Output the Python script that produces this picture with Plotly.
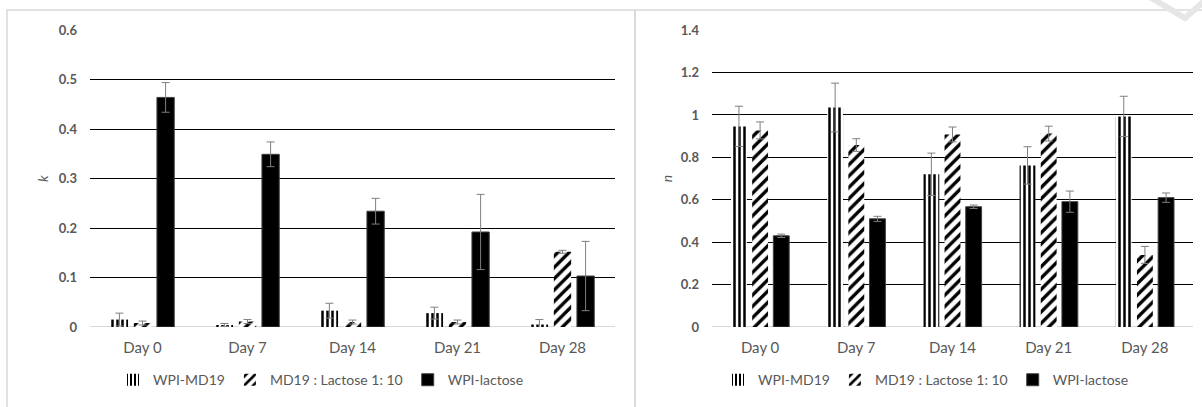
import plotly.graph_objects as go

days = ["Day 0", "Day 7", "Day 14", "Day 21", "Day 28"]
series_names = ["WPI-MD19", "MD19 : Lactose 1: 10", "WPI-lactose"]

# k values (left panel)
k_wpi_md19 = [0.015, 0.004, 0.033, 0.028, 0.005]
k_wpi_md19_err = [0.013, 0.003, 0.015, 0.012, 0.010]
k_md19_lac = [0.008, 0.011, 0.010, 0.010, 0.152]
k_md19_lac_err = [0.004, 0.004, 0.004, 0.004, 0.003]
k_wpi_lac = [0.464, 0.349, 0.234, 0.192, 0.103]
k_wpi_lac_err = [0.030, 0.025, 0.026, 0.076, 0.070]

# n values (right panel)
n_wpi_md19 = [0.946, 1.035, 0.720, 0.762, 0.993]
n_wpi_md19_err = [0.095, 0.115, 0.100, 0.088, 0.095]
n_md19_lac = [0.927, 0.858, 0.908, 0.912, 0.340]
n_md19_lac_err = [0.040, 0.030, 0.035, 0.035, 0.040]
n_wpi_lac = [0.430, 0.510, 0.567, 0.591, 0.610]
n_wpi_lac_err = [0.008, 0.012, 0.008, 0.050, 0.022]

k_ticks = [0, 0.1, 0.2, 0.3, 0.4, 0.5, 0.6]
n_ticks = [0, 0.2, 0.4, 0.6, 0.8, 1, 1.2, 1.4]
n_grid = [0.2, 0.4, 0.6, 0.8, 1, 1.2]

TXT = "#595959"
FONT = "Lato"

styles = [
    dict(color="white", line=dict(width=0),
         pattern=dict(shape="|", fgcolor="black", bgcolor="white", size=5, solidity=0.5,
                      fillmode="replace", fgopacity=1)),
    dict(color="white", line=dict(width=0),
         pattern=dict(shape="/", fgcolor="black", bgcolor="white", size=8, solidity=0.42,
                      fillmode="replace", fgopacity=1)),
    dict(color="black", line=dict(width=1, color="#404040")),
]

err_style = dict(type="data", color="#7f7f7f", thickness=1, width=4, visible=True)

fig = go.Figure()
k_data = [(k_wpi_md19, k_wpi_md19_err), (k_md19_lac, k_md19_lac_err), (k_wpi_lac, k_wpi_lac_err)]
n_data = [(n_wpi_md19, n_wpi_md19_err), (n_md19_lac, n_md19_lac_err), (n_wpi_lac, n_wpi_lac_err)]

for i, (vals, errs) in enumerate(k_data):
    fig.add_trace(go.Bar(x=days, y=vals, name=series_names[i], marker=styles[i],
                         error_y=dict(array=errs, **err_style),
                         xaxis="x", yaxis="y", legend="legend"))
for i, (vals, errs) in enumerate(n_data):
    fig.add_trace(go.Bar(x=days, y=vals, name=series_names[i], marker=styles[i],
                         error_y=dict(array=errs, **err_style),
                         xaxis="x2", yaxis="y2", legend="legend2"))
# invisible trace to host the grid axis for the right panel
fig.add_trace(go.Scatter(x=days, y=[None]*len(days), xaxis="x2", yaxis="y3",
                         showlegend=False, hoverinfo="skip"))

ydom = [0.1966, 0.926]
tickfont = dict(family=FONT, size=13, color=TXT, weight="bold")
xtickfont = dict(family=FONT, size=15, color=TXT)
legfont = dict(family=FONT, size=14, color=TXT)

fig.update_layout(
    width=1202, height=407,
    margin=dict(l=0, r=0, t=0, b=0, autoexpand=False),
    paper_bgcolor="white", plot_bgcolor="white",
    barmode="group", bargap=0.34, bargroupgap=0.25,
    xaxis=dict(domain=[90/1202, 615/1202], anchor="y", showgrid=False, showline=False,
               ticks="", tickfont=xtickfont, ticklabelstandoff=10, zeroline=False, automargin=False),
    yaxis=dict(domain=ydom, anchor="x", range=[0, 0.6], tickvals=k_ticks,
               ticktext=[f"{v:g}" for v in k_ticks],
               showgrid=True, gridcolor="black", gridwidth=1,
               zeroline=True, zerolinecolor="#d9d9d9", zerolinewidth=1,
               ticks="", tickfont=tickfont, ticklabelstandoff=12, automargin=False,
               title=dict(text="<i>k</i>", font=dict(family=FONT, size=14, color=TXT), standoff=6)),
    xaxis2=dict(domain=[712/1202, 1193/1202], anchor="y2", showgrid=False, showline=False,
                ticks="", tickfont=xtickfont, ticklabelstandoff=10, zeroline=False, automargin=False),
    yaxis2=dict(domain=ydom, anchor="x2", range=[0, 1.4], tickvals=n_ticks,
                ticktext=[f"{v:g}" for v in n_ticks],
                showgrid=False, zeroline=True, zerolinecolor="#d9d9d9", zerolinewidth=1,
                ticks="", tickfont=tickfont, ticklabelstandoff=12, automargin=False,
                title=dict(text="<i>n</i>", font=dict(family=FONT, size=14, color=TXT), standoff=4)),
    yaxis3=dict(domain=ydom, anchor="x2", overlaying="y2", range=[0, 1.4], tickvals=n_grid,
                showticklabels=False, showgrid=True, gridcolor="black", gridwidth=1,
                zeroline=False, ticks="", layer="below traces", automargin=False),
    legend=dict(orientation="h", x=321/1202, xanchor="center", y=0.066, yanchor="middle",
                font=legfont, itemwidth=30, bgcolor="rgba(0,0,0,0)"),
    legend2=dict(orientation="h", x=926/1202, xanchor="center", y=0.066, yanchor="middle",
                 font=legfont, itemwidth=30, bgcolor="rgba(0,0,0,0)"),
    shapes=[
        dict(type="rect", xref="paper", yref="paper", x0=7/1202, x1=635/1202, y0=-0.05, y1=(407-10)/407,
             line=dict(color="#d9d9d9", width=1.5), fillcolor="rgba(0,0,0,0)", layer="below"),
        dict(type="rect", xref="paper", yref="paper", x0=635/1202, x1=1.05, y0=-0.05, y1=(407-10)/407,
             line=dict(color="#d9d9d9", width=1.5), fillcolor="rgba(0,0,0,0)", layer="below"),
        dict(type="path", xref="paper", yref="paper",
             path=f"M {1148/1202} 1.01 L {1185/1202} {(407-18)/407} L {1215/1202} 1.02",
             line=dict(color="#e6e6e6", width=6), layer="below"),
    ],
)

fig.write_html("out.html")
